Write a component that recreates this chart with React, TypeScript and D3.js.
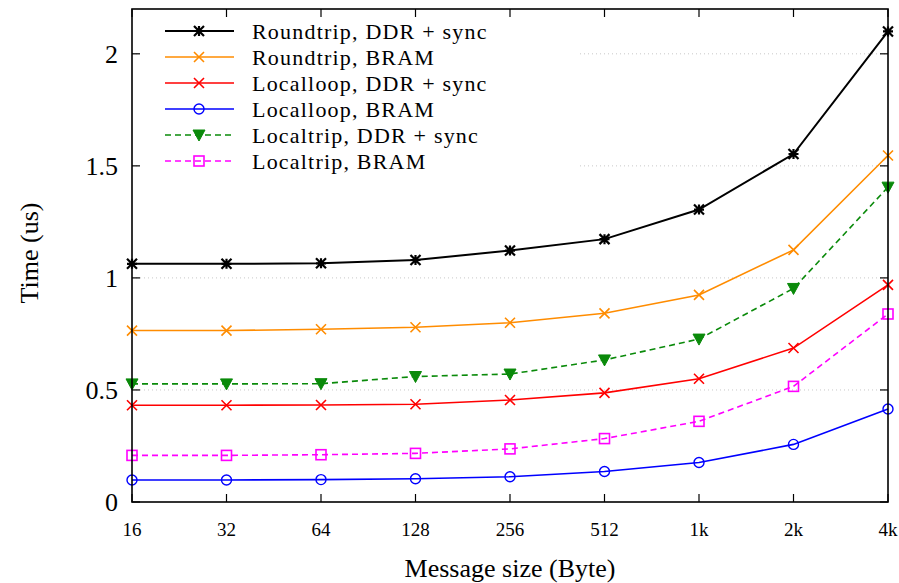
import React, { useEffect, useRef } from "react";
import * as d3 from "d3";

const sizes = ["16", "32", "64", "128", "256", "512", "1k", "2k", "4k"];
const yTicks = [0, 0.5, 1, 1.5, 2];

const roundtripDDR = [1.063, 1.063, 1.065, 1.08, 1.122, 1.173, 1.305, 1.553, 2.1];
const roundtripBRAM = [0.765, 0.765, 0.771, 0.78, 0.8, 0.842, 0.924, 1.125, 1.546];
const localloopDDR = [0.432, 0.432, 0.433, 0.436, 0.455, 0.487, 0.55, 0.687, 0.969];
const localloopBRAM = [0.098, 0.098, 0.1, 0.104, 0.113, 0.136, 0.176, 0.257, 0.415];
const localtripDDR = [0.527, 0.527, 0.528, 0.56, 0.571, 0.634, 0.727, 0.953, 1.405];
const localtripBRAM = [0.208, 0.208, 0.211, 0.217, 0.237, 0.283, 0.36, 0.516, 0.839];

const series = [
  { name: "Roundtrip, DDR + sync", values: roundtripDDR, color: "#000000", dash: null, marker: "star" },
  { name: "Roundtrip, BRAM", values: roundtripBRAM, color: "#ff8c00", dash: null, marker: "cross" },
  { name: "Localloop, DDR + sync", values: localloopDDR, color: "#ff0000", dash: null, marker: "cross" },
  { name: "Localloop, BRAM", values: localloopBRAM, color: "#0000ff", dash: null, marker: "circle" },
  { name: "Localtrip, DDR + sync", values: localtripDDR, color: "#0a8a0a", dash: "6,4", marker: "triangle" },
  { name: "Localtrip, BRAM", values: localtripBRAM, color: "#ff00ff", dash: "6,4", marker: "square" },
];

const font = "Liberation Serif, Tinos, Nimbus Roman, FreeSerif, Times New Roman, DejaVu Serif, serif";

// draw one point marker at (x, y)
function drawMarker(g: any, type: string, x: number, y: number, color: string) {
  const s = 5;
  if (type === "cross" || type === "star") {
    let d = `M${x - s},${y - s}L${x + s},${y + s}M${x - s},${y + s}L${x + s},${y - s}`;
    if (type === "star") d += `M${x - s},${y}L${x + s},${y}M${x},${y - s}L${x},${y + s}`;
    g.append("path").attr("d", d).attr("stroke", color).attr("stroke-width", type === "star" ? 2.2 : 1.6).attr("fill", "none");
  } else if (type === "circle") {
    g.append("circle").attr("cx", x).attr("cy", y).attr("r", s)
      .attr("stroke", color).attr("stroke-width", 1.4).attr("fill", "none");
  } else if (type === "square") {
    g.append("rect").attr("x", x - s).attr("y", y - s).attr("width", 2 * s).attr("height", 2 * s)
      .attr("stroke", color).attr("stroke-width", 1.6).attr("fill", "none");
  } else if (type === "triangle") {
    g.append("path").attr("d", `M${x - 6},${y - 5}L${x + 6},${y - 5}L${x},${y + 6}Z`)
      .attr("fill", color).attr("stroke", color).attr("stroke-width", 1);
  }
}

const App = () => {
  const svgRef = useRef<SVGSVGElement>(null);

  useEffect(() => {
    const width = 899;
    const height = 583;
    const left = 132, right = 888, top = 9, bottom = 502;

    const svg = d3.select(svgRef.current);
    svg.selectAll("*").remove();
    svg.attr("width", width).attr("height", height).style("font-family", font);

    svg.append("rect").attr("width", width).attr("height", height).attr("fill", "#fff");

    const x = d3.scalePoint().domain(sizes).range([left, right]);
    const y = d3.scaleLinear().domain([0, 2.2]).range([bottom, top]);

    // dotted horizontal grid
    svg.append("g").selectAll("line").data(yTicks.filter((t) => t > 0)).enter().append("line")
      .attr("x1", left).attr("x2", right)
      .attr("y1", (d) => y(d)).attr("y2", (d) => y(d))
      .attr("stroke", "#c8c8c8").attr("stroke-width", 1).attr("stroke-dasharray", "1,3");

    // legend background hides grid behind it
    svg.append("rect").attr("x", left + 6).attr("y", top + 6).attr("width", 440).attr("height", 162).attr("fill", "#fff");

    // ticks (mirrored, pointing inward)
    const tickLen = 8;
    const ticks = svg.append("g").attr("stroke", "#000").attr("stroke-width", 1.2);
    yTicks.forEach((t) => {
      ticks.append("line").attr("x1", left).attr("x2", left + tickLen).attr("y1", y(t)).attr("y2", y(t));
      ticks.append("line").attr("x1", right).attr("x2", right - tickLen).attr("y1", y(t)).attr("y2", y(t));
    });
    sizes.forEach((s) => {
      ticks.append("line").attr("x1", x(s)!).attr("x2", x(s)!).attr("y1", bottom).attr("y2", bottom - tickLen);
      ticks.append("line").attr("x1", x(s)!).attr("x2", x(s)!).attr("y1", top).attr("y2", top + tickLen);
    });

    // tick labels
    svg.append("g").selectAll("text").data(yTicks).enter().append("text")
      .attr("x", left - 14).attr("y", (d) => y(d)).attr("dy", "0.35em")
      .attr("text-anchor", "end").style("font-family", font).attr("font-size", 26)
      .text((d) => String(d));
    svg.append("g").selectAll("text").data(sizes).enter().append("text")
      .attr("x", (d) => x(d)!).attr("y", bottom + 34)
      .attr("text-anchor", "middle").style("font-family", font).attr("font-size", 19)
      .text((d) => d);

    // axis titles
    svg.append("text").attr("x", 510).attr("y", 577)
      .attr("text-anchor", "middle").style("font-family", font).attr("font-size", 26)
      .text("Message size (Byte)");
    svg.append("text").attr("transform", `translate(38, 253) rotate(-90)`)
      .attr("text-anchor", "middle").style("font-family", font).attr("font-size", 26)
      .text("Time (us)");

    // series lines and markers
    const line = d3.line<number>().x((_, i) => x(sizes[i])!).y((d) => y(d));
    series.forEach((s) => {
      const g = svg.append("g");
      g.append("path").attr("d", line(s.values)!).attr("fill", "none")
        .attr("stroke", s.color).attr("stroke-width", s.color === "#000000" ? 2 : 1.6)
        .attr("stroke-dasharray", s.dash);
      s.values.forEach((v, i) => drawMarker(g, s.marker, x(sizes[i])!, y(v), s.color));
    });

    // legend
    const leg = svg.append("g");
    series.forEach((s, i) => {
      const ly = 31 + i * 26;
      leg.append("line").attr("x1", 165).attr("x2", 234).attr("y1", ly).attr("y2", ly)
        .attr("stroke", s.color).attr("stroke-width", s.color === "#000000" ? 2 : 1.6)
        .attr("stroke-dasharray", s.dash);
      drawMarker(leg, s.marker, 199, ly, s.color);
      leg.append("text").attr("x", 252).attr("y", ly).attr("dy", "0.35em")
        .style("font-family", font).attr("font-size", 22).attr("letter-spacing", 1.2).text(s.name);
    });

    // frame
    svg.append("rect").attr("x", left).attr("y", top).attr("width", right - left).attr("height", bottom - top)
      .attr("fill", "none").attr("stroke", "#000").attr("stroke-width", 1.6);
  }, []);

  return <svg ref={svgRef} style={{ position: "absolute", left: 0, top: 0 }}></svg>;
};

export default App;
